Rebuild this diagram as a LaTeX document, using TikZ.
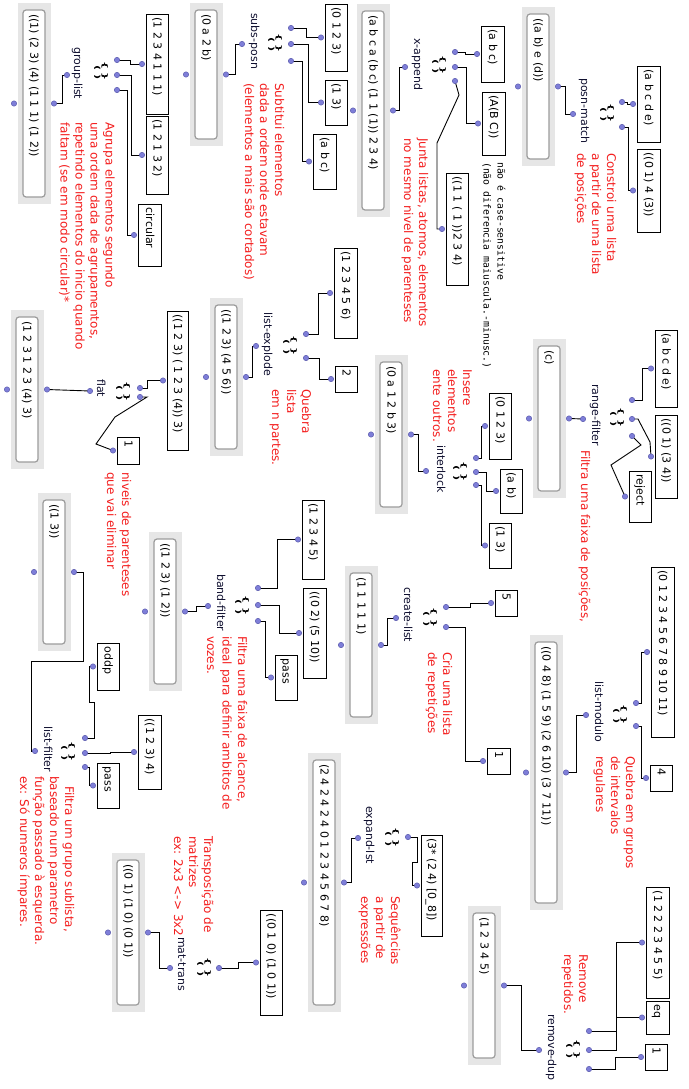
\documentclass[tikz,border=0pt]{standalone}
\usepackage{fontspec}
\setmainfont{DejaVu Sans}
\newfontfamily\monofam{DejaVu Sans Mono}
\definecolor{redc}{HTML}{F41E1E}
\definecolor{dotfill}{HTML}{7E7ED8}
\definecolor{dotedge}{HTML}{5C5CAE}
\definecolor{framegray}{HTML}{E6E6E6}
\definecolor{innergray}{HTML}{9C9C9C}
\definecolor{labelc}{HTML}{101030}
\pgfdeclarelayer{back}
\pgfdeclarelayer{wires}
\pgfsetlayers{back,wires,main}
\tikzset{
  dot/.style={circle, inner sep=0pt, minimum size=5.4pt, fill=dotfill, draw=dotedge, line width=0.5pt},
  inbx/.style={rectangle, draw=black, line width=0.9pt, fill=white, inner sep=0pt},
  frm/.style={rectangle, fill=framegray, inner sep=0pt},
  inr/.style={rectangle, draw=innergray, line width=1.2pt, fill=white, rounded corners=3pt, inner sep=0pt},
  btxt/.style={rotate=-90, anchor=base west, inner sep=0pt, font=\fontsize{11}{13}\selectfont, text=black},
  lbl/.style={rotate=-90, anchor=base west, inner sep=0pt, font=\fontsize{11}{13}\selectfont, text=labelc},
  rtx/.style={rotate=-90, anchor=base west, inner sep=0pt, font=\fontsize{12}{14}\selectfont, text=redc},
  mtx/.style={rotate=-90, anchor=base west, inner sep=0pt, font=\monofam\fontsize{9.8}{12}\selectfont, text=black},
  icn/.style={rotate=-90, xscale=1.6, inner sep=0pt, font=\bfseries\fontsize{7}{7}\selectfont},
  wire/.style={draw=black, line width=0.9pt}
}
% input box: name, x1, y1, x2, y2, text
\newcommand\ibx[6]{%
  \pgfmathsetmacro\Zw{#4-#2}\pgfmathsetmacro\Zh{#5-#3}%
  \pgfmathsetmacro\Zx{(#2+#4)/2}\pgfmathsetmacro\Zy{(#3+#5)/2}%
  \node[inbx, minimum width=\Zw pt, minimum height=\Zh pt] (#1) at (\Zx,\Zy) {};
  \node[btxt] (#1-t) at (\Zx-3.5,#3+3.5) {#6};
  \node[dot] (#1-o) at (#2-4,\Zy) {};
}
% result box with grey frame: name, x1, y1, x2, y2, text
\newcommand\obx[6]{%
  \pgfmathsetmacro\Zw{#4-#2}\pgfmathsetmacro\Zh{#5-#3}%
  \pgfmathsetmacro\Zx{(#2+#4)/2}\pgfmathsetmacro\Zy{(#3+#5)/2}%
  \pgfmathsetmacro\Zi{#4-#2-11}\pgfmathsetmacro\Zj{#5-#3-14}%
  \pgfmathsetmacro\Zk{(#2+#4-1)/2}%
  \node[frm, minimum width=\Zw pt, minimum height=\Zh pt] (#1) at (\Zx,\Zy) {};
  \node[inr, minimum width=\Zi pt, minimum height=\Zj pt] (#1-in) at (\Zk,\Zy) {};
  \node[btxt] (#1-t) at (\Zk-3.5,#3+11) {#6};
  \node[dot] (#1-o) at (#2-4,\Zy) {};
  \node[dot] (#1-i) at (#4+3,\Zy) {};
}
% function: name, label, label centre x, label start y, icon x, icon y, outlet x, outlet y
\newcommand\fnc[8]{%
  \node[lbl] (#1) at (#3-3,#4) {#2};
  \node[icn] (#1-ica) at (#5+3.8,#6) {\{\hspace{2.5pt}\}};
  \node[icn] (#1-icb) at (#5-3.8,#6+2) {(\hspace{2.5pt})};
  \node[dot] (#1-o) at (#7,#8) {};
}
\newcommand\inl[3]{\node[dot] (#1) at (#2,#3) {};}
\newcommand\redl[4]{\node[rtx] (#1) at (#2-3,#3) {#4};}

\begin{document}
\begin{tikzpicture}[x=1pt,y=-1pt]
\begin{pgfonlayer}{back}
  \fill[white] (0,0) rectangle (688,1089);
\end{pgfonlayer}
\useasboundingbox (0,0) rectangle (688,1089);

% result boxes
\obx{A}{18}{3}{51}{204}{((1) (2 3) (4) (1 1 1) (1 2))}
\obx{B}{190}{3}{223}{146}{(0 a 2 b)}
\obx{C}{357}{4}{390}{217}{(a b c a (b c) (1 1 (1)) 2 3 4)}
\obx{D}{522}{7}{555}{166}{((a b) e (d))}
\obx{E}{11}{310}{44}{469}{(1 2 3 1 2 3 (4) 3)}
\obx{F}{210}{298}{243}{456}{((1 2 3) (4 5 6))}
\obx{G}{375}{355}{408}{514}{(0 a 1 2 b 3)}
\obx{H}{533}{339}{566}{498}{(c)}
\obx{I}{38}{493}{71}{651}{((1 3))}
\obx{J}{149}{532}{182}{691}{((1 2 3) (1 2))}
\obx{K}{345}{566}{378}{724}{(1 1 1 1 1)}
\obx{L}{530}{635}{563}{910}{((0 4 8) (1 5 9) (2 6 10) (3 7 11))}
\obx{M}{112}{853}{145}{1012}{((0 1) (1 0) (0 1))}
\obx{N}{308}{753}{341}{1012}{(2 4 2 4 2 4 0 1 2 3 4 5 6 7 8)}
\obx{O}{468}{906}{501}{1065}{(1 2 3 4 5)}

% input boxes
\ibx{b1}{146}{14}{168}{114}{(1 2 3 4 1 1 1)}
\ibx{b2}{146}{116}{168}{194}{(1 2 1 3 2)}
\ibx{b3}{138}{204}{161}{266}{circular}
\ibx{b4}{325}{4}{347}{71}{(0 1 2 3)}
\ibx{b5}{325}{80}{347}{125}{(1 3)}
\ibx{b6}{313}{134}{336}{189}{(a b c)}
\ibx{b7}{481}{26}{504}{82}{(a b c)}
\ibx{b8}{482}{92}{505}{155}{(A(B C))}
\ibx{b9}{446}{173}{468}{285}{((1 1 ( 1 ))2 3 4)}
\ibx{b10}{637}{66}{660}{142}{(a b c d e)}
\ibx{b11}{637}{149}{660}{232}{((0 1) 4 (3))}
\ibx{b12}{167}{311}{188}{450}{((1 2 3) ( 1 2 3 (4)) 3)}
\ibx{b13}{117}{437}{139}{464}{1}
\ibx{b14}{334}{248}{357}{338}{(1 2 3 4 5 6)}
\ibx{b15}{335}{366}{357}{392}{2}
\ibx{b16}{489}{393}{511}{459}{(0 1 2 3)}
\ibx{b17}{500}{469}{522}{513}{(a b)}
\ibx{b18}{489}{523}{511}{568}{(1 3)}
\ibx{b19}{655}{330}{677}{407}{(a b c d e)}
\ibx{b20}{655}{415}{677}{498}{((0 1) (3 4))}
\ibx{b21}{629}{471}{651}{522}{reject}
\ibx{b22}{302}{500}{324}{579}{(1 2 3 4 5)}
\ibx{b23}{303}{588}{326}{678}{((0 2) (5 10))}
\ibx{b24}{275}{655}{297}{700}{pass}
\ibx{b25}{97}{643}{119}{690}{oddp}
\ibx{b26}{138}{715}{161}{789}{((1 2 3) 4)}
\ibx{b27}{97}{763}{119}{808}{pass}
\ibx{b28}{495}{590}{517}{616}{5}
\ibx{b29}{487}{748}{510}{774}{1}
\ibx{b30}{651}{567}{674}{737}{(0 1 2 3 4 5 6 7 8 9 10 11)}
\ibx{b31}{650}{765}{672}{791}{4}
\ibx{b32}{421}{835}{442}{936}{(3* (2 4) [0\_8])}
\ibx{b33}{260}{910}{282}{1015}{((0 1 0) (1 0 1))}
\ibx{b34}{646}{887}{669}{998}{(1 2 2 2 3 4 5 5)}
\ibx{b35}{646}{1001}{669}{1034}{eq}
\ibx{b36}{645}{1044}{667}{1070}{1}

% functions
\fnc{gl}{group-list}{77}{47}{101}{71}{67}{75}
\inl{gl-i1}{117}{60}\inl{gl-i2}{117}{75}\inl{gl-i3}{117}{90}
\fnc{sp}{subs-posn}{254}{13}{275}{43}{242}{44}
\inl{sp-i1}{291}{28}\inl{sp-i2}{291}{44}\inl{sp-i3}{291}{61}
\fnc{xa}{x-append}{417}{38}{439}{65}{405}{67}
\inl{xa-i1}{455}{52}\inl{xa-i2}{455}{67}\inl{xa-i3}{455}{81}
\fnc{pm}{posn-match}{584}{78}{607}{113}{573}{114}
\inl{pm-i1}{622}{102}\inl{pm-i2}{622}{127}
\fnc{fl}{flat}{100}{379}{123}{391}{90}{391}
\inl{fl-i1}{140}{388}\inl{fl-i2}{140}{397}
\fnc{le}{list-explode}{267}{312}{290}{345}{256}{346}
\inl{le-i1}{306}{334}\inl{le-i2}{306}{358}
\fnc{il}{interlock}{440}{445}{460}{471}{426}{471}
\inl{il-i1}{476}{458}\inl{il-i2}{476}{472}\inl{il-i3}{476}{485}
\fnc{rf}{range-filter}{595}{384}{617}{417}{583}{419}
\inl{rf-i1}{632}{400}\inl{rf-i2}{632}{419}\inl{rf-i3}{632}{436}
\fnc{bf}{band-filter}{220}{574}{242}{605}{208}{606}
\inl{bf-i1}{258}{588}\inl{bf-i2}{258}{605}\inl{bf-i3}{258}{621}
\fnc{lf}{list-filter}{47}{726}{68}{751}{35}{751}
\inl{lf-i1}{85}{738}\inl{lf-i2}{85}{753}\inl{lf-i3}{85}{767}
\fnc{cl}{create-list}{407}{587}{430}{617}{396}{618}
\inl{cl-i1}{446}{607}\inl{cl-i2}{446}{627}
\fnc{lm}{list-modulo}{598}{681}{620}{714}{586}{715}
\inl{lm-i1}{636}{703}\inl{lm-i2}{636}{726}
\fnc{el}{expand-lst}{369}{806}{392}{837}{358}{838}
\inl{el-i1}{408}{837}
\fnc{mt}{mat-trans}{181}{937}{204}{967}{170}{968}
\inl{mt-i1}{219}{968}
\fnc{rd}{remove-dup}{551}{1014}{573}{1049}{539}{1050}
\inl{rd-i1}{589}{1031}\inl{rd-i2}{589}{1050}\inl{rd-i3}{589}{1069}

% comments
\redl{c1a}{108.5}{122}{Agrupa elementos segundo}
\redl{c1b}{93.5}{122}{uma ordem dada de agrupamentos,}
\redl{c1c}{78.5}{122}{repetindo elementos do inicio quando}
\redl{c1d}{63.5}{122}{faltam (se em modo circular)*}
\redl{c2a}{278}{83}{Subtitui elementos}
\redl{c2b}{263}{83}{dada a ordem onde estavam}
\redl{c2c}{248}{83}{(elementos a mais são cortados)}
\redl{c3a}{422}{138}{Junta listas, atomos, elementos}
\redl{c3b}{407}{138}{no mesmo nivel de parenteses}
\redl{c4a}{610}{153}{Constroi uma lista}
\redl{c4b}{595}{153}{a partir de uma lista}
\redl{c4c}{580}{153}{de posições}
\redl{c5a}{125}{472}{niveis de parenteses}
\redl{c5b}{110}{472}{que vai eliminar}
\redl{c6a}{305}{389}{Quebra}
\redl{c6b}{290}{389}{lista}
\redl{c6c}{275}{389}{em n partes.}
\redl{c7a}{466}{369}{Insere}
\redl{c7b}{451}{369}{elementos}
\redl{c7c}{436}{369}{ente outros.}
\redl{c8a}{584}{450}{Filtra uma faixa de posições,}
\redl{c9a}{241}{636}{Filtra uma faixa de alcance,}
\redl{c9b}{225.5}{636}{ideal para definir ambitos de}
\redl{c9c}{210}{636}{vozes.}
\redl{c10a}{68}{786}{Filtra um grupo sublista,}
\redl{c10b}{53}{776}{baseado num parametro}
\redl{c10c}{38}{776}{função passado à esquerda.}
\redl{c10d}{23}{776}{ex: Só numeros ímpares.}
\redl{c11a}{446}{652}{Cria uma lista}
\redl{c11b}{431}{652}{de repetições}
\redl{c12a}{629}{756}{Quebra em grupos}
\redl{c12b}{614}{756}{de intervalos}
\redl{c12c}{599}{756}{regulares}
\redl{c13a}{394}{896}{Sequências}
\redl{c13b}{379}{896}{a partir de}
\redl{c13c}{364}{896}{expressões}
\redl{c14a}{207}{836}{Transposição de}
\redl{c14b}{192}{836}{matrizes}
\redl{c14c}{177}{836}{ex: 2x3 <-> 3x2}
\redl{c15a}{582}{954}{Remove}
\redl{c15b}{567}{954}{repetidos.}
\node[mtx] (m1) at (497.5,162) {não é case-sensitive};
\node[mtx] (m2) at (483.5,162) {(não diferencia maiuscula.-minusc.)};

% connections
\begin{pgfonlayer}{wires}
\draw[wire] (gl-o.center) -- ++(-5,0) |- (A-i.center);
\draw[wire] (gl-i1.center) -- ++(13,0) |- (b1-o.center);
\draw[wire] (gl-i2.center) -- ++(14,0) |- (b2-o.center);
\draw[wire] (gl-i3.center) -- ++(10,0) |- (b3-o.center);
\draw[wire] (sp-o.center) -- ++(-7,0) |- (B-i.center);
\draw[wire] (sp-i1.center) -- ++(15,0) |- (b4-o.center);
\draw[wire] (sp-i2.center) -- ++(17,0) |- (b5-o.center);
\draw[wire] (sp-i3.center) -- ++(11,0) |- (b6-o.center);
\draw[wire] (xa-o.center) -- ++(-6,0) |- (C-i.center);
\draw[wire] (xa-i1.center) -- ++(10,0) |- (b7-o.center);
\draw[wire] (xa-i2.center) -- ++(11,0) |- (b8-o.center);
\draw[wire] (xa-i3.center) -- (459,95) -- (437,143) |- (b9-o.center);
\draw[wire] (pm-o.center) -- ++(-8,0) |- (D-i.center);
\draw[wire] (pm-i1.center) -- ++(5,0) |- (b10-o.center);
\draw[wire] (pm-i2.center) -- ++(6,0) |- (b11-o.center);
\draw[wire] (fl-o.center) -- (E-i.center);
\draw[wire] (fl-i1.center) -- ++(7,0) |- (b12-o.center);
\draw[wire] (fl-i2.center) -- ++(7,0) -- (115,417) -- (96,444) -- (b13-o.center);
\draw[wire] (le-o.center) -- ++(-4,0) |- (F-i.center);
\draw[wire] (le-i1.center) -- ++(12,0) |- (b14-o.center);
\draw[wire] (le-i2.center) -- ++(13,0) |- (b15-o.center);
\draw[wire] (il-o.center) -- ++(-8,0) |- (G-i.center);
\draw[wire] (il-i1.center) -- ++(5,0) |- (b16-o.center);
\draw[wire] (il-i2.center) -- ++(10,0) |- (b17-o.center);
\draw[wire] (il-i3.center) -- ++(5,0) |- (b18-o.center);
\draw[wire] (rf-o.center) -- (H-i.center);
\draw[wire] (rf-i1.center) -- ++(10,0) |- (b19-o.center);
\draw[wire] (rf-i2.center) -- ++(6,0) -- (650,442) -- (b20-o.center);
\draw[wire] (rf-i3.center) -- (641,445) -- (611,465) -- (b21-o.center);
\draw[wire] (bf-o.center) -- ++(-12,0) |- (J-i.center);
\draw[wire] (bf-i1.center) -- ++(19,0) |- (b22-o.center);
\draw[wire] (bf-i2.center) -- ++(21,0) |- (b23-o.center);
\draw[wire] (bf-i3.center) -- ++(7,0) |- (b24-o.center);
\draw[wire] (lf-o.center) -- ++(-4,0) |- (83,661) |- (I-i.center);
\draw[wire] (lf-i1.center) -- ++(9,0) -- ++(0,-36) -- ++(-5,0) |- (b25-o.center);
\draw[wire] (lf-i2.center) -- ++(25,0) |- (b26-o.center);
\draw[wire] (lf-i3.center) -- ++(4,0) |- (b27-o.center);
\draw[wire] (cl-o.center) -- ++(-9,0) |- (K-i.center);
\draw[wire] (cl-i1.center) -- ++(24,0) |- (b28-o.center);
\draw[wire] (cl-i2.center) -- ++(19,0) |- (b29-o.center);
\draw[wire] (lm-o.center) -- ++(-10,0) |- (L-i.center);
\draw[wire] (lm-i1.center) -- ++(5,0) |- (b30-o.center);
\draw[wire] (lm-i2.center) -- ++(5,0) |- (b31-o.center);
\draw[wire] (el-o.center) -- ++(-7,0) |- (N-i.center);
\draw[wire] (el-i1.center) -- ++(9,0) -- ++(0,25) -- ++(-5,0) |- (b32-o.center);
\draw[wire] (mt-o.center) -- ++(-11,0) |- (M-i.center);
\draw[wire] (mt-i1.center) -- ++(19,0) |- (b33-o.center);
\draw[wire] (rd-o.center) -- ++(-18,0) |- (O-i.center);
\draw[wire] (rd-i1.center) -- ++(27,0) |- (b34-o.center);
\draw[wire] (rd-i2.center) -- ++(27,0) |- (b35-o.center);
\draw[wire] (rd-i3.center) -- ++(26,0) |- (b36-o.center);
\end{pgfonlayer}
\end{tikzpicture}
\end{document}
